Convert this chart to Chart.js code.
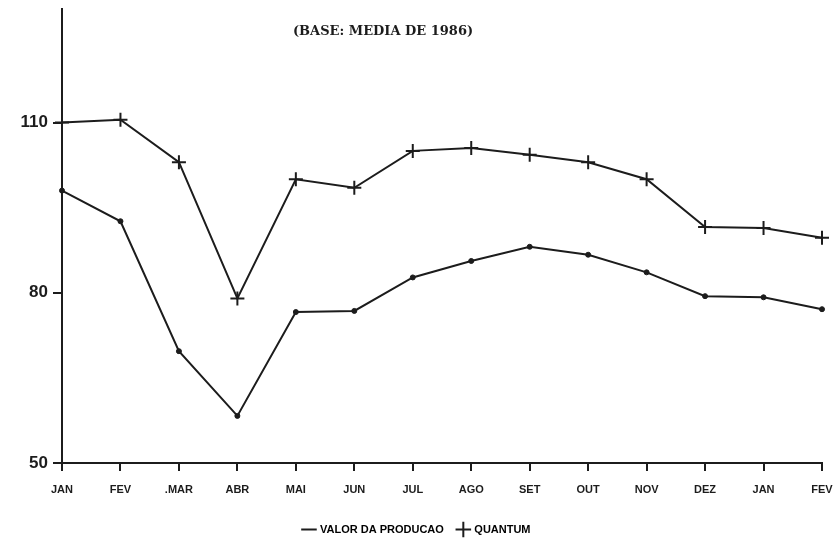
<!DOCTYPE html>
<html>
<head>
<meta charset="utf-8">
<script src="https://cdn.jsdelivr.net/npm/chart.js@4.4.1/dist/chart.umd.min.js"></script>
<style>
  html, body { margin: 0; padding: 0; background: #fff; }
  #wrap { width: 834px; height: 551px; }
</style>
</head>
<body>
<div id="wrap"><canvas id="chart" width="834" height="551"></canvas></div>
<script>
// -------- Data --------
const months = ["JAN", "FEV", ".MAR", "ABR", "MAI", "JUN", "JUL", "AGO", "SET", "OUT", "NOV", "DEZ", "JAN", "FEV"];
const valorProducao = [98, 92.6, 69.7, 58.3, 76.6, 76.8, 82.7, 85.6, 88.1, 86.7, 83.6, 79.4, 79.2, 77.1];
const quantum = [110, 110.5, 103, 79, 100, 98.5, 105, 105.5, 104.3, 103, 100, 91.6, 91.4, 89.7];
const yTicks = [50, 80, 110];
const subtitle = "(BASE: MEDIA DE 1986)";

const INK = "#1c1c1c";

// -------- Subtitle plugin --------
const subtitlePlugin = {
    id: "subtitleText",
    afterDraw(chart) {
        const ctx = chart.ctx;
        ctx.save();
        ctx.fillStyle = INK;
        ctx.font = "bold 13px 'DejaVu Serif'";
        ctx.textAlign = "center";
        ctx.textBaseline = "middle";
        ctx.fillText(subtitle, 383, 32);
        ctx.restore();
    }
};

const ctx = document.getElementById("chart").getContext("2d");
new Chart(ctx, {
    type: "line",
    data: {
        labels: months,
        datasets: [
            {
                label: "VALOR DA PRODUCAO",
                data: valorProducao,
                borderColor: INK,
                backgroundColor: INK,
                borderWidth: 2,
                pointStyle: "circle",
                pointRadius: 2.5,
                pointBorderWidth: 1,
                tension: 0
            },
            {
                label: "QUANTUM",
                data: quantum,
                borderColor: INK,
                backgroundColor: INK,
                borderWidth: 2,
                pointStyle: "cross",
                pointRadius: 7,
                pointBorderWidth: 2,
                tension: 0
            }
        ]
    },
    options: {
        responsive: false,
        animation: false,
        layout: { padding: { top: 8, right: 0, left: 0, bottom: 6 } },
        plugins: {
            tooltip: { enabled: false },
            legend: {
                position: "bottom",
                labels: {
                    usePointStyle: true,
                    color: INK,
                    font: { family: "'Liberation Sans'", weight: "bold", size: 11 },
                    boxWidth: 22,
                    padding: 14,
                    generateLabels(chart) {
                        return chart.data.datasets.map((ds, i) => ({
                            text: ds.label,
                            fillStyle: INK,
                            strokeStyle: INK,
                            lineWidth: 2,
                            pointStyle: i === 0 ? "line" : "cross",
                            datasetIndex: i
                        }));
                    }
                }
            }
        },
        scales: {
            x: {
                type: "category",
                offset: false,
                grid: { display: true, drawOnChartArea: false, drawTicks: true, tickLength: 8, color: INK, lineWidth: 2 },
                border: { display: true, color: INK, width: 2 },
                ticks: {
                    color: INK,
                    font: { family: "'Liberation Sans'", weight: "bold", size: 11 },
                    maxRotation: 0,
                    autoSkip: false,
                    padding: 12
                },
                afterFit(scale) {
                    scale.height = 47;
                    scale.paddingRight = 12;
                }
            },
            y: {
                min: 50,
                max: 130,
                afterBuildTicks(axis) { axis.ticks = yTicks.map(v => ({ value: v })); },
                grid: { display: true, drawOnChartArea: false, drawTicks: true, tickLength: 9, color: INK, lineWidth: 2 },
                border: { display: true, color: INK, width: 2 },
                ticks: {
                    color: INK,
                    font: { family: "'Liberation Sans'", weight: "bold", size: 17 },
                    padding: 5
                },
                afterFit(scale) {
                    scale.width = 62;
                    scale.paddingTop = 0;
                }
            }
        }
    },
    plugins: [subtitlePlugin]
});
</script>
</body>
</html>
